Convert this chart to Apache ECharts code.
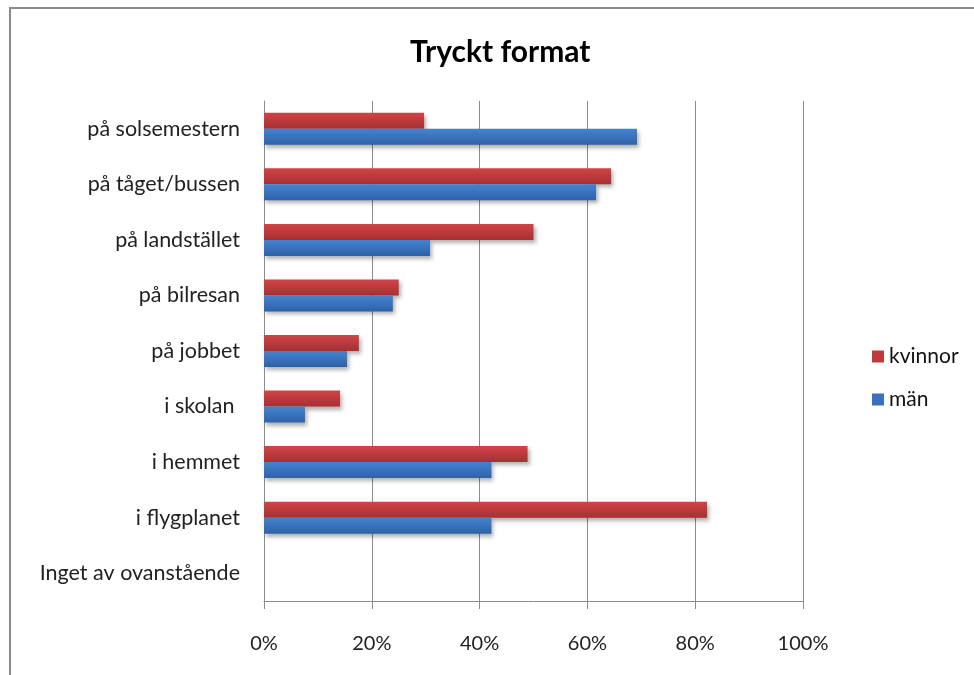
<!DOCTYPE html>
<html><head><meta charset="utf-8">
<script src="https://cdn.jsdelivr.net/npm/echarts@6/dist/echarts.min.js"></script>
<style>html,body{margin:0;padding:0;background:#fff}#c{width:974px;height:675px}
#frame{position:absolute;left:9px;top:7px;width:980px;height:700px;border:2px solid #8a8a8a;box-sizing:border-box;pointer-events:none}</style>
</head><body><div id="c"></div><div id="frame"></div>
<script>
const categories = ["på solsemestern","på tåget/bussen","på landstället","på bilresan","på jobbet","i skolan ","i hemmet","i flygplanet","Inget av ovanstående"];
const kvinnor = [29.7, 64.4, 50.0, 25.0, 17.6, 14.1, 48.9, 82.2, 0];
const man = [69.2, 61.6, 30.8, 23.9, 15.4, 7.6, 42.2, 42.2, 0];
const xTicks = [0, 20, 40, 60, 80, 100];
const FONT = "Lato, 'Open Sans', sans-serif";
const chart = echarts.init(document.getElementById('c'));
function grad(a, b){ return new echarts.graphic.LinearGradient(0,0,0,1,[{offset:0,color:a},{offset:1,color:b}]); }
chart.setOption({
  animation:false,
  title:{text:"Tryckt format", left:405, top:32,
    textStyle:{fontFamily:FONT, fontSize:30, fontWeight:'bold', color:'#000'}},
  legend:{orient:'vertical', left:867, top:341, itemWidth:12, itemHeight:12, itemGap:22,
    textStyle:{fontFamily:FONT, fontSize:21, color:'#111'},
    data:[{name:'kvinnor', icon:'rect', itemStyle:{color:'#c0393b'}},{name:'män', icon:'rect', itemStyle:{color:'#3a70bd'}}]},
  grid:{left:264, right:171, top:101, bottom:74},
  xAxis:{type:'value', min:xTicks[0], max:xTicks[xTicks.length-1], interval:20,
    axisLine:{show:true, lineStyle:{color:'#8c8c8c', width:1}},
    axisTick:{show:true, length:8, lineStyle:{color:'#8c8c8c'}},
    axisLabel:{formatter:v=>v+'%', margin:33, fontFamily:FONT, fontSize:20, color:'#222'},
    splitLine:{show:true, lineStyle:{color:'#8c8c8c', width:1}}},
  yAxis:{type:'category', data:categories, inverse:true,
    axisLine:{show:true, lineStyle:{color:'#8c8c8c'}}, axisTick:{show:false},
    axisLabel:{margin:24, fontFamily:FONT, fontSize:21.5, color:'#222'}},
  series:[
    {name:'kvinnor', type:'bar', data:kvinnor, barWidth:16, barGap:'0%',
      itemStyle:{color:grad('#d24446','#a53032'), shadowColor:'rgba(0,0,0,0.3)', shadowBlur:4, shadowOffsetX:2, shadowOffsetY:3}},
    {name:'män', type:'bar', data:man, barWidth:16, barGap:'0%',
      itemStyle:{color:grad('#4483d2','#2f62a6'), shadowColor:'rgba(0,0,0,0.3)', shadowBlur:4, shadowOffsetX:2, shadowOffsetY:3}}
  ]
});
</script></body></html>
